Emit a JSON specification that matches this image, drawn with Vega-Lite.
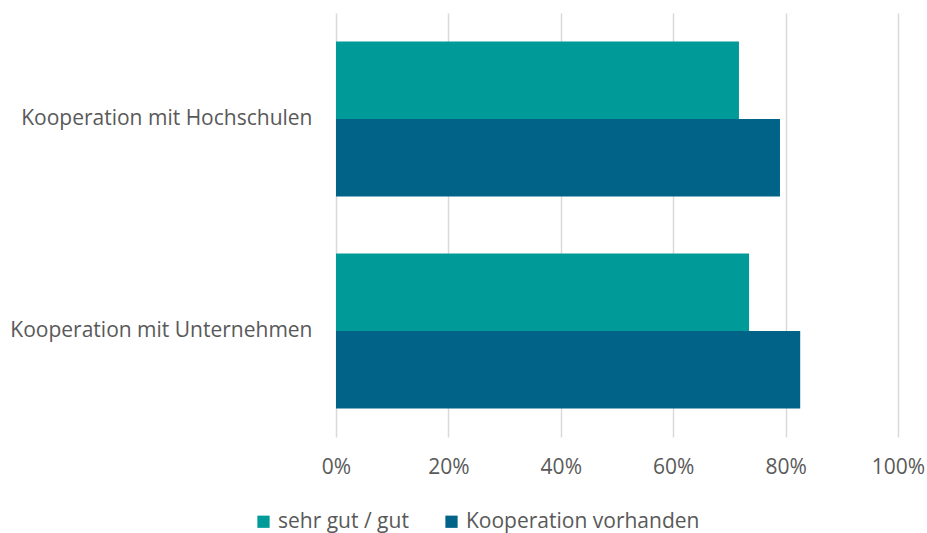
{
  "$schema": "https://vega.github.io/schema/vega-lite/v6.json",
  "autosize": "none",
  "width": 562,
  "height": 424,
  "padding": {"left": 336, "top": 13, "right": 29, "bottom": 96},
  "background": "white",
  "config": {
    "view": {"stroke": null},
    "font": "Open Sans"
  },
  "data": {
    "values": [
      {"kategorie": "Kooperation mit Hochschulen", "serie": "sehr gut / gut", "wert": 0.717},
      {"kategorie": "Kooperation mit Hochschulen", "serie": "Kooperation vorhanden", "wert": 0.790},
      {"kategorie": "Kooperation mit Unternehmen", "serie": "sehr gut / gut", "wert": 0.735},
      {"kategorie": "Kooperation mit Unternehmen", "serie": "Kooperation vorhanden", "wert": 0.826}
    ]
  },
  "mark": {"type": "bar"},
  "encoding": {
    "y": {
      "field": "kategorie",
      "type": "nominal",
      "title": null,
      "sort": ["Kooperation mit Hochschulen", "Kooperation mit Unternehmen"],
      "scale": {"paddingInner": 0.27, "paddingOuter": 0.135},
      "axis": {
        "domain": false,
        "ticks": false,
        "grid": false,
        "labelPadding": 24,
        "labelFontSize": 21,
        "labelLimit": 400,
        "labelColor": "#595959",
        "labelFont": "Open Sans"
      }
    },
    "yOffset": {
      "field": "serie",
      "type": "nominal",
      "sort": ["sehr gut / gut", "Kooperation vorhanden"],
      "scale": {"paddingInner": 0, "paddingOuter": 0}
    },
    "x": {
      "field": "wert",
      "type": "quantitative",
      "title": null,
      "scale": {"domain": [0, 1], "nice": false},
      "axis": {
        "format": ".0%",
        "values": [0, 0.2, 0.4, 0.6, 0.8, 1],
        "domain": false,
        "ticks": false,
        "grid": true,
        "gridColor": "#d9d9d9",
        "gridWidth": 1.5,
        "labelFlush": false,
        "labelPadding": 19,
        "labelFontSize": 21,
        "labelColor": "#595959",
        "labelFont": "Open Sans"
      }
    },
    "color": {
      "field": "serie",
      "type": "nominal",
      "sort": ["sehr gut / gut", "Kooperation vorhanden"],
      "scale": {"domain": ["sehr gut / gut", "Kooperation vorhanden"], "range": ["#009a98", "#026389"]},
      "legend": {
        "title": null,
        "orient": "none",
        "direction": "horizontal",
        "legendX": -83,
        "legendY": 498,
        "symbolType": "square",
        "symbolSize": 150,
        "symbolStrokeWidth": 0,
        "labelFontSize": 21,
        "labelLimit": 400,
        "labelColor": "#595959",
        "labelFont": "Open Sans",
        "columnPadding": 32,
        "labelOffset": 4
      }
    }
  }
}
